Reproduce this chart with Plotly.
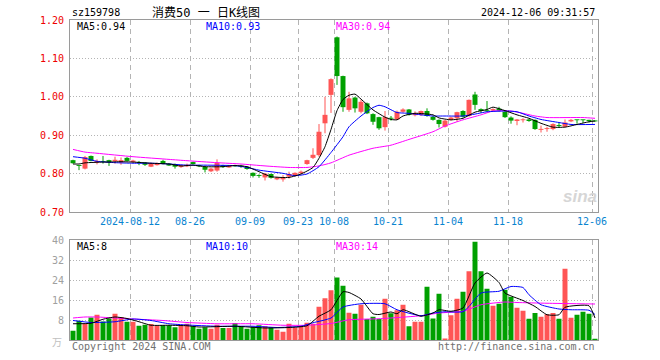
import plotly.graph_objects as go

# ---------------- data ----------------
dates = [
    "2024-07-29", "2024-07-30", "2024-07-31",
    "2024-08-01", "2024-08-02", "2024-08-05", "2024-08-06", "2024-08-07", "2024-08-08", "2024-08-09",
    "2024-08-12", "2024-08-13", "2024-08-14", "2024-08-15", "2024-08-16", "2024-08-19", "2024-08-20",
    "2024-08-21", "2024-08-22", "2024-08-23", "2024-08-26", "2024-08-27", "2024-08-28", "2024-08-29",
    "2024-08-30",
    "2024-09-02", "2024-09-03", "2024-09-04", "2024-09-05", "2024-09-06", "2024-09-09", "2024-09-10",
    "2024-09-11", "2024-09-12", "2024-09-13", "2024-09-18", "2024-09-19", "2024-09-20", "2024-09-23",
    "2024-09-24", "2024-09-25", "2024-09-26", "2024-09-27", "2024-09-30",
    "2024-10-08", "2024-10-09", "2024-10-10", "2024-10-11", "2024-10-14", "2024-10-15", "2024-10-16",
    "2024-10-17", "2024-10-18", "2024-10-21", "2024-10-22", "2024-10-23", "2024-10-24", "2024-10-25",
    "2024-10-28", "2024-10-29", "2024-10-30", "2024-10-31",
    "2024-11-01", "2024-11-04", "2024-11-05", "2024-11-06", "2024-11-07", "2024-11-08", "2024-11-11",
    "2024-11-12", "2024-11-13", "2024-11-14", "2024-11-15", "2024-11-18", "2024-11-19", "2024-11-20",
    "2024-11-21", "2024-11-22", "2024-11-25", "2024-11-26", "2024-11-27", "2024-11-28", "2024-11-29",
    "2024-12-02", "2024-12-03", "2024-12-04", "2024-12-05", "2024-12-06",
]

open_ = [0.835, 0.821, 0.813, 0.846, 0.829, 0.832, 0.835, 0.832, 0.829, 0.841,
         0.830, 0.829, 0.829, 0.818, 0.822, 0.833, 0.826, 0.824, 0.817, 0.819,
         0.830, 0.822, 0.818, 0.806, 0.808, 0.822, 0.816, 0.822, 0.821, 0.818,
         0.802, 0.795, 0.790, 0.799, 0.785, 0.785, 0.792, 0.794, 0.801, 0.825,
         0.841, 0.848, 0.931, 1.005, 1.155, 1.054, 0.966, 0.998, 0.961, 0.983,
         0.955, 0.947, 0.921, 0.945, 0.941, 0.961, 0.967, 0.952, 0.953, 0.963,
         0.948, 0.940, 0.922, 0.940, 0.944, 0.963, 0.950, 1.006, 0.968, 0.965,
         0.964, 0.969, 0.961, 0.946, 0.937, 0.939, 0.941, 0.940, 0.914, 0.916,
         0.916, 0.926, 0.922, 0.936, 0.940, 0.940, 0.940, 0.937]
high = [0.836, 0.821, 0.846, 0.847, 0.837, 0.846, 0.836, 0.844, 0.842, 0.843,
        0.836, 0.833, 0.830, 0.828, 0.829, 0.836, 0.827, 0.826, 0.823, 0.826,
        0.831, 0.823, 0.819, 0.815, 0.837, 0.823, 0.822, 0.823, 0.823, 0.819,
        0.803, 0.798, 0.801, 0.800, 0.792, 0.796, 0.805, 0.803, 0.808, 0.836,
        0.866, 0.929, 1.000, 1.048, 1.157, 1.055, 1.013, 1.000, 0.992, 0.985,
        0.957, 0.948, 0.963, 0.950, 0.964, 0.970, 0.968, 0.962, 0.964, 0.970,
        0.950, 0.941, 0.940, 0.948, 0.961, 0.965, 0.993, 1.013, 0.970, 0.989,
        0.970, 0.974, 0.963, 0.949, 0.942, 0.944, 0.942, 0.941, 0.925, 0.922,
        0.931, 0.933, 0.941, 0.942, 0.940, 0.940, 0.940, 0.938]
low = [0.826, 0.809, 0.811, 0.832, 0.824, 0.826, 0.820, 0.826, 0.823, 0.832,
       0.829, 0.822, 0.820, 0.817, 0.821, 0.824, 0.820, 0.813, 0.815, 0.817,
       0.824, 0.817, 0.803, 0.804, 0.805, 0.815, 0.815, 0.818, 0.815, 0.810,
       0.790, 0.789, 0.782, 0.787, 0.783, 0.779, 0.787, 0.792, 0.799, 0.823,
       0.838, 0.844, 0.905, 0.958, 1.031, 0.961, 0.961, 0.959, 0.957, 0.955,
       0.927, 0.914, 0.912, 0.938, 0.940, 0.959, 0.951, 0.949, 0.950, 0.948,
       0.938, 0.920, 0.920, 0.938, 0.935, 0.946, 0.948, 0.966, 0.958, 0.961,
       0.962, 0.961, 0.945, 0.930, 0.926, 0.933, 0.935, 0.914, 0.907, 0.909,
       0.913, 0.920, 0.921, 0.934, 0.930, 0.932, 0.933, 0.935]
close = [0.827, 0.820, 0.843, 0.833, 0.833, 0.830, 0.829, 0.836, 0.835, 0.833,
         0.834, 0.828, 0.823, 0.827, 0.827, 0.825, 0.821, 0.818, 0.821, 0.823,
         0.825, 0.819, 0.810, 0.813, 0.828, 0.817, 0.820, 0.819, 0.818, 0.812,
         0.794, 0.794, 0.800, 0.789, 0.789, 0.790, 0.799, 0.802, 0.805, 0.835,
         0.849, 0.909, 0.953, 1.046, 1.054, 0.973, 0.996, 0.970, 0.987, 0.957,
         0.935, 0.918, 0.947, 0.943, 0.961, 0.967, 0.953, 0.958, 0.963, 0.950,
         0.940, 0.929, 0.938, 0.946, 0.960, 0.948, 0.992, 0.979, 0.963, 0.962,
         0.968, 0.964, 0.947, 0.938, 0.941, 0.941, 0.937, 0.916, 0.916, 0.918,
         0.929, 0.924, 0.933, 0.940, 0.939, 0.939, 0.937, 0.936]

volume = [3.7, 7.7, 6.5, 9.0, 10.1, 7.4, 8.6, 10.5, 9.2, 7.3,
          7.3, 5.7, 6.1, 6.4, 5.7, 5.9, 5.9, 5.1, 5.7, 6.5,
          5.5, 4.5, 5.1, 4.5, 6.1, 4.8, 4.8, 6.8, 5.5, 4.5,
          5.2, 5.9, 5.5, 5.1, 4.1, 3.3, 6.5, 5.0, 5.5, 6.9,
          6.5, 13.3, 16.7, 19.9, 25.0, 21.7, 10.9, 10.5, 14.1, 8.4,
          9.3, 8.4, 16.5, 10.7, 11.9, 14.1, 5.5, 7.3, 7.3, 21.3,
          8.6, 18.5, 0.6, 9.9, 16.5, 19.3, 27.5, 39.3, 27.5, 20.5,
          13.7, 14.5, 20.1, 17.3, 12.9, 11.7, 8.5, 10.8, 9.3, 10.3,
          10.8, 8.5, 28.5, 8.9, 10.1, 11.3, 10.5, 0.5]

# moving-average lines (day index, value)
ma5_day = [0, 1, 2, 5, 6, 8, 10, 13, 16, 18, 20, 22, 25, 27, 29, 31, 33, 36, 38, 40, 41, 42, 43, 44, 45,
           46, 47, 48, 50, 52, 53, 54, 55, 57, 60, 61, 63, 65, 67, 69, 70, 72, 74, 76, 78, 80, 82, 84, 86, 87]
ma5_val = [0.825, 0.825, 0.828, 0.830, 0.830, 0.831, 0.830, 0.827, 0.825, 0.820, 0.822, 0.818, 0.818,
           0.821, 0.818, 0.805, 0.792, 0.790, 0.799, 0.816, 0.840, 0.870, 0.915, 0.964, 0.993, 1.004,
           1.007, 0.994, 0.966, 0.947, 0.941, 0.940, 0.950, 0.957, 0.953, 0.945, 0.940, 0.944, 0.960,
           0.967, 0.973, 0.964, 0.953, 0.944, 0.931, 0.921, 0.921, 0.928, 0.935, 0.937]
ma10_day = [0, 2, 4, 7, 10, 13, 16, 19, 22, 27, 29, 31, 35, 37, 39, 41, 43, 45, 46, 48, 50, 51, 52,
            54, 56, 58, 60, 62, 65, 67, 69, 72, 74, 76, 78, 81, 83, 87]
ma10_val = [0.844, 0.840, 0.832, 0.8285, 0.827, 0.827, 0.825, 0.822, 0.822, 0.8207, 0.816, 0.809,
            0.8007, 0.7946, 0.799, 0.818, 0.855, 0.896, 0.922, 0.950, 0.972, 0.978, 0.974, 0.959,
            0.957, 0.953, 0.950, 0.950, 0.950, 0.955, 0.961, 0.963, 0.961, 0.950, 0.941, 0.933,
            0.928, 0.928]
ma30_day = [0, 2, 4, 10, 16, 19, 24, 28, 32, 36, 39, 41, 43, 46, 50, 53, 56, 60, 62, 65, 68, 70,
            73, 75, 77, 79, 85, 87]
ma30_val = [0.863, 0.856, 0.853, 0.844, 0.837, 0.8336, 0.8285, 0.825, 0.820, 0.816, 0.816, 0.820,
            0.828, 0.848, 0.866, 0.874, 0.889, 0.909, 0.924, 0.940, 0.953, 0.963, 0.963, 0.957,
            0.950, 0.946, 0.946, 0.944]

vma5_day = [0, 3, 5, 7, 9, 11, 13, 16, 19, 21, 27, 32, 36, 39, 41, 43, 45, 46, 48, 50, 51, 53, 54,
            55, 58, 60, 61, 63, 65, 67, 69, 71, 72, 75, 77, 79, 81, 82, 86, 87]
vma5_val = [6.5, 6.7, 8.3, 9.2, 8.6, 7.3, 5.9, 5.9, 5.7, 5.2, 5.5, 4.8, 5.0, 5.7, 9.5, 12.1, 19.3,
            19.0, 16.4, 10.5, 10.2, 11.2, 10.5, 12.1, 9.5, 10.8, 12.1, 11.5, 12.8, 22.8, 26.8, 23.0,
            18.8, 15.8, 13.4, 10.1, 10.1, 13.1, 13.7, 8.8]
vma10_day = [0, 3, 7, 10, 13, 16, 19, 24, 30, 34, 38, 40, 43, 45, 48, 52, 54, 58, 60, 62, 65, 66,
             68, 71, 73, 75, 76, 78, 81, 83, 86, 87]
vma10_val = [7.8, 7.0, 7.3, 8.4, 7.8, 6.5, 6.0, 5.5, 5.5, 5.0, 5.5, 6.9, 8.8, 13.2, 14.5, 14.5, 12.1,
             9.7, 10.8, 11.3, 11.3, 13.4, 18.8, 19.5, 21.4, 21.0, 18.1, 14.1, 12.4, 12.1, 11.9, 10.2]
vma30_day = [0, 2, 4, 7, 10, 15, 19, 24, 30, 35, 39, 43, 46, 51, 58, 61, 65, 68, 72, 74, 79, 87]
vma30_val = [8.8, 9.2, 9.2, 8.8, 8.4, 7.8, 7.0, 6.5, 6.5, 5.9, 5.9, 6.6, 8.1, 8.5, 9.7, 10.8, 11.5,
             14.1, 15.2, 15.0, 14.7, 14.4]

label_dates = ["2024-08-12", "2024-08-26", "2024-09-09", "2024-09-23", "2024-10-08",
               "2024-10-21", "2024-11-04", "2024-11-18", "2024-12-06"]
label_text = ["2024-08-12", "08-26", "09-09", "09-23", "10-08", "10-21", "11-04", "11-18", "12-06"]

price_ticks = [0.70, 0.80, 0.90, 1.00, 1.10, 1.20]
vol_ticks = [8, 16, 24, 32, 40]
main_ma_last = ["0.94", "0.93", "0.94"]
vol_ma_last = ["8", "10", "14"]

code = "sz159798"
title_cn = "消费50 一 日K线图"
stamp = "2024-12-06 09:31:57"

# ---------------- styling ----------------
RED = "#ff5555"
GREEN = "#00a000"
MONO = "DejaVu Sans Mono, Liberation Mono, monospace"
L, R, T, B = 70, 62, 20, 20
W, H = 660, 360
PW, PH = W - L - R, H - T - B


def px(x):
    return (x - L) / PW


def py(y):
    return (H - B - y) / PH


idx = list(range(len(dates)))
up = [c >= o for o, c in zip(open_, close)]
colors = [RED if u else GREEN for u in up]

fig = go.Figure()

# wicks
for flag, col in ((True, RED), (False, GREEN)):
    wx, wy = [], []
    for i in idx:
        if up[i] == flag:
            wx += [i, i, None]
            wy += [low[i], high[i], None]
    fig.add_trace(go.Scatter(x=wx, y=wy, mode="lines", line=dict(color=col, width=1),
                             xaxis="x", yaxis="y", hoverinfo="skip"))

# bodies
body_base = [min(o, c) for o, c in zip(open_, close)]
body_h = [max(abs(c - o), 0.0024) for o, c in zip(open_, close)]
fig.add_trace(go.Bar(x=idx, y=body_h, base=body_base, width=0.83,
                     marker=dict(color=colors, line=dict(width=0)),
                     xaxis="x", yaxis="y", hoverinfo="skip"))

# price MAs
for xs, ys, col in ((ma30_day, ma30_val, "#ff00ff"), (ma10_day, ma10_val, "#0000ff"),
                    (ma5_day, ma5_val, "#000000")):
    fig.add_trace(go.Scatter(x=xs, y=ys, mode="lines",
                             line=dict(color=col, width=1, shape="spline", smoothing=0.5),
                             xaxis="x", yaxis="y", hoverinfo="skip"))

# volume
fig.add_trace(go.Bar(x=idx, y=volume, width=0.83,
                     marker=dict(color=colors, line=dict(width=0)),
                     xaxis="x2", yaxis="y2", hoverinfo="skip"))
for xs, ys, col in ((vma30_day, vma30_val, "#ff00ff"), (vma10_day, vma10_val, "#0000ff"),
                    (vma5_day, vma5_val, "#000000")):
    fig.add_trace(go.Scatter(x=xs, y=ys, mode="lines",
                             line=dict(color=col, width=1, shape="spline", smoothing=0.5),
                             xaxis="x2", yaxis="y2", hoverinfo="skip"))

tickpos = [dates.index(d) - 0.5 for d in label_dates]
xrange_ = [-0.5, len(dates) - 0.5]
FRAME = "#9a9a9a"
GRID = "#b4b4b4"

common_x = dict(range=xrange_, tickvals=tickpos, showgrid=True, gridcolor=GRID, gridwidth=1,
                griddash="5px,4px", zeroline=False, showline=True, mirror=True,
                linecolor=FRAME, linewidth=1, ticks="", fixedrange=True)

fig.update_layout(
    width=W, height=H,
    margin=dict(l=L, r=R, t=T, b=B, pad=0),
    paper_bgcolor="white", plot_bgcolor="white",
    showlegend=False, barmode="overlay",
    xaxis=dict(domain=[0, 1], anchor="y", ticktext=label_text,
               tickfont=dict(family=MONO, size=10, color="#0a84d0"), **common_x),
    xaxis2=dict(domain=[0, 1], anchor="y2", showticklabels=False, **common_x),
    yaxis=dict(domain=[py(212), 1], anchor="x", range=[0.70, 1.20], tickvals=price_ticks,
               ticktext=["%.2f" % v for v in price_ticks],
               tickfont=dict(family=MONO, size=10, color="#ee0000"),
               showgrid=True, gridcolor=GRID, griddash="1px,2px", zeroline=False,
               showline=True, mirror=True, linecolor=FRAME, linewidth=1,
               ticks="outside", ticklen=3, tickcolor="rgba(0,0,0,0)", fixedrange=True),
    yaxis2=dict(domain=[0, py(240)], anchor="x2", range=[0, 40], tickvals=vol_ticks,
                ticktext=[str(v) for v in vol_ticks],
                tickfont=dict(family=MONO, size=10, color="#a0a0a0"),
                showgrid=True, gridcolor=GRID, griddash="1px,2px", zeroline=False,
                showline=True, mirror=True, linecolor=FRAME, linewidth=1,
                ticks="outside", ticklen=3, tickcolor="rgba(0,0,0,0)", fixedrange=True),
)


def note(text, x, y, color="#000000", anchor="left", size=10, family=MONO, **kw):
    fig.add_annotation(text=text, x=px(x), y=py(y), xref="paper", yref="paper",
                       xanchor=anchor, yanchor="middle", showarrow=False,
                       font=dict(family=family, size=size, color=color), **kw)


note(code, 70, 13)
note(title_cn, 206, 13, anchor="center", size=12,
     family="DejaVu Sans Mono, Noto Sans CJK SC")
note(stamp, 597, 13, anchor="right")

note("MA5:" + main_ma_last[0], 75, 26, "#000000")
note("MA10:" + main_ma_last[1], 204, 26, "#0000ff")
note("MA30:" + main_ma_last[2], 334, 26, "#ff00ff")
note("MA5:" + vol_ma_last[0], 75, 246, "#000000")
note("MA10:" + vol_ma_last[1], 204, 246, "#0000ff")
note("MA30:" + vol_ma_last[2], 334, 246, "#ff00ff")

note("万", 64, 341, "#c0c0c0", anchor="right", family="Noto Sans CJK SC")
note("Copyright 2024 SINA.COM", 70, 346, "#707070")
note("http://finance.sina.com.cn", 597, 346, "#707070", anchor="right")
note("<b><i>sina</i></b>", 580, 196, "#d6d6d6", anchor="center", size=17,
     family="Liberation Sans, Arial, sans-serif")

fig.write_html("out.html", config={"displayModeBar": False, "staticPlot": True},
               post_script="document.body.style.margin='0';document.body.style.overflow='hidden';")
